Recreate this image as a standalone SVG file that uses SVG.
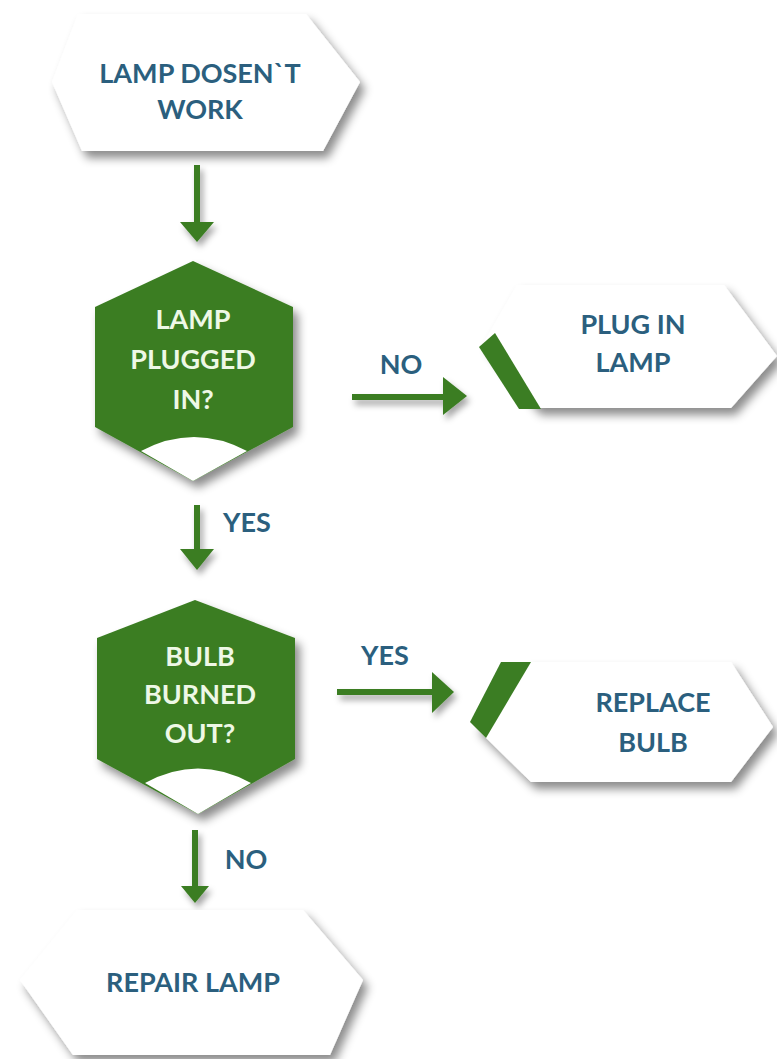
<svg xmlns="http://www.w3.org/2000/svg" width="777" height="1059" viewBox="0 0 777 1059">
<defs>
<filter id="sh" x="-20%" y="-20%" width="150%" height="160%">
<feDropShadow dx="5" dy="7" stdDeviation="5" flood-color="#000" flood-opacity="0.45"/>
</filter>
<filter id="ash" x="-30%" y="-60%" width="170%" height="250%">
<feDropShadow dx="3" dy="5" stdDeviation="3" flood-color="#000" flood-opacity="0.35"/>
</filter>
</defs>
<style>
.proc{fill:#ffffff;filter:url(#sh)}
.dec{fill:#3b7d23;filter:url(#sh)}
.cap{fill:#ffffff}
.bar{fill:#3b7d23}
.t{font-family:Lato,"Open Sans",sans-serif;font-weight:700;font-size:27px;text-anchor:middle}
.tb{fill:#2b5f7e}
.tw{fill:#eef8e6}
.ah{fill:#3b7d23}
.ln{stroke:#3b7d23;stroke-width:6}
</style>
<rect width="777" height="1059" fill="#ffffff"/>

<g id="connectors">
<g filter="url(#ash)">
<line class="ln" x1="197" y1="165" x2="197" y2="224"/>
<path class="ah" d="M180,222 L214,222 L197,242 Z"/>
</g>
<g filter="url(#ash)">
<line class="ln" x1="352" y1="397" x2="446" y2="397"/>
<path class="ah" d="M443,377 L467,396 L443,415 Z"/>
</g>
<text class="t tb" x="401" y="374">NO</text>
<g filter="url(#ash)">
<line class="ln" x1="197" y1="505" x2="197" y2="552"/>
<path class="ah" d="M180,549 L214,549 L197,570 Z"/>
</g>
<text class="t tb" x="247" y="532">YES</text>
<g filter="url(#ash)">
<line class="ln" x1="337" y1="692" x2="434" y2="692"/>
<path class="ah" d="M432,672 L454,692 L432,713 Z"/>
</g>
<text class="t tb" x="385" y="665">YES</text>
<g filter="url(#ash)">
<line class="ln" x1="195" y1="830" x2="195" y2="889"/>
<path class="ah" d="M181,886 L209,886 L195,903 Z"/>
</g>
<text class="t tb" x="246" y="869">NO</text>
</g>

<g id="start">
<path class="proc" d="M78,14 L306,14 L360,82 L323,151 L82,151 L52,82 Z"/>
<text class="t tb" x="200" y="83">LAMP DOSEN`T</text>
<text class="t tb" x="200" y="119">WORK</text>
</g>

<g id="decision1">
<path class="dec" d="M193,261 L293,307 L293,427 L193,481 L95,427 L95,307 Z"/>
<path class="cap" d="M141,451 Q194,423 247,451 L193,481 Z"/>
<text class="t tw" x="193" y="329">LAMP</text>
<text class="t tw" x="193" y="369">PLUGGED</text>
<text class="t tw" x="193" y="409">IN?</text>
</g>

<g id="plugin">
<path class="proc" d="M517,285 L724,285 L777,356 L731,408 L536,408 L483,344 Z"/>
<path class="bar" d="M479,347 L495,333 L541,409 L519,409 Z"/>
<text class="t tb" x="633" y="334">PLUG IN</text>
<text class="t tb" x="633" y="372">LAMP</text>
</g>

<g id="decision2">
<path class="dec" d="M195,600 L295,638 L295,759 L198,814 L97,759 L97,638 Z"/>
<path class="cap" d="M145,783 Q198,754 251,783 L198,814 Z"/>
<text class="t tw" x="200" y="666">BULB</text>
<text class="t tw" x="200" y="704">BURNED</text>
<text class="t tw" x="200" y="743">OUT?</text>
</g>

<g id="replace">
<path class="proc" d="M528,662 L731,662 L773,727 L731,782 L531,782 L474,726 Z"/>
<path class="bar" d="M501,662 L531,662 L486,738 L470,722 Z"/>
<text class="t tb" x="653" y="712">REPLACE</text>
<text class="t tb" x="653" y="752">BULB</text>
</g>

<g id="repair">
<path class="proc" d="M77,910 L303,910 L363,980 L330,1055 L73,1055 L20,980 Z"/>
<text class="t tb" x="193" y="992">REPAIR LAMP</text>
</g>
</svg>
